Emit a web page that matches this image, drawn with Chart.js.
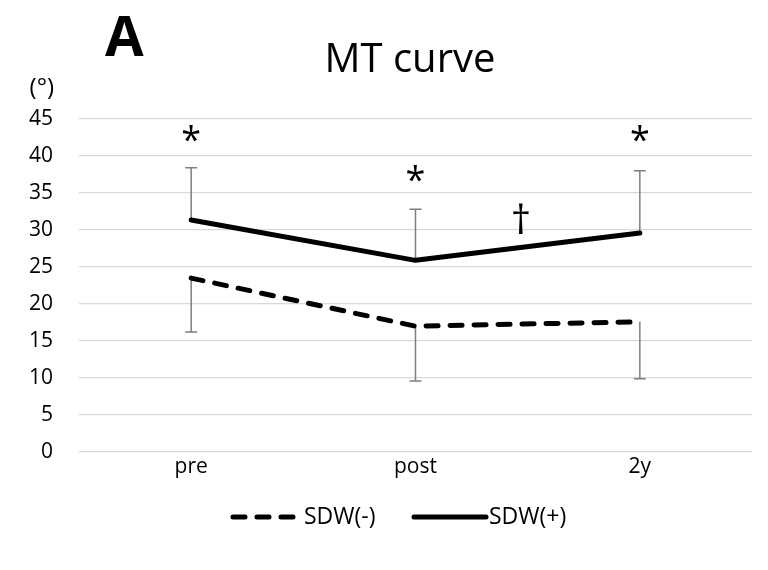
<!DOCTYPE html>
<html><head><meta charset="utf-8">
<script src="https://cdn.jsdelivr.net/npm/chart.js@4/dist/chart.umd.min.js"></script>
<style>html,body{margin:0;padding:0;background:#fff}#wrap{width:768px;height:570px}</style>
</head><body><div id="wrap"><canvas id="c" width="768" height="570"></canvas></div>
<script>
// ---- data ----
const categories = ['pre', 'post', '2y'];
const seriesNames = ['SDW(-)', 'SDW(+)'];
const sdwMinus = [23.5, 17.0, 17.6];
const sdwPlus = [31.35, 25.9, 29.6];
const sdwMinusLower = [16.2, 9.6, 9.9];   // lower end of SD bar for SDW(-)
const sdwPlusUpper = [38.4, 32.8, 38.0];  // upper end of SD bar for SDW(+)
const yMin = 0, yMax = 45, yStep = 5;
const markTexts = ['*', '*', '*', '†'];
const markX = [0, 1, 2, 1.47];
const markY = [43.1, 37.7, 43.1, 31.6];

const FONT = '"Open Sans", Lato, sans-serif';

const decor = {
  id: 'decor',
  beforeDatasetsDraw(chart) {
    const ctx = chart.ctx, xs = chart.scales.x, ys = chart.scales.y;
    ctx.save();
    ctx.strokeStyle = '#7f7f7f';
    ctx.lineWidth = 1.5;
    const cap = 6;
    const bars = [[sdwPlus, sdwPlusUpper], [sdwMinus, sdwMinusLower]];
    bars.forEach(([vals, ends]) => {
      vals.forEach((v, i) => {
        const x = xs.getPixelForValue(i);
        const y0 = ys.getPixelForValue(v), y1 = ys.getPixelForValue(ends[i]);
        ctx.beginPath();
        ctx.moveTo(x, y0); ctx.lineTo(x, y1);
        ctx.moveTo(x - cap, y1); ctx.lineTo(x + cap, y1);
        ctx.stroke();
      });
    });
    ctx.restore();
  },
  afterDraw(chart) {
    const ctx = chart.ctx, xs = chart.scales.x, ys = chart.scales.y;
    ctx.save();
    ctx.fillStyle = '#000';
    // significance marks, ink centered on value position
    markTexts.forEach((t, i) => {
      ctx.font = (t === '*' ? '36px ' : '40px ') + FONT;
      const m = ctx.measureText(t);
      const x = xs.getPixelForValue(markX[i]);
      const y = ys.getPixelForValue(markY[i]);
      ctx.textAlign = 'center';
      ctx.textBaseline = 'alphabetic';
      ctx.fillText(t, x, y + (m.actualBoundingBoxAscent - m.actualBoundingBoxDescent) / 2);
    });
    // title
    ctx.textAlign = 'center';
    ctx.textBaseline = 'alphabetic';
    ctx.font = '40px ' + FONT;
    ctx.fillText('MT curve', 410, 72);
    // panel letter
    ctx.textAlign = 'left';
    ctx.font = 'bold 56px ' + FONT;
    ctx.fillText('A', 105, 56);
    // unit
    ctx.textBaseline = 'middle';
    ctx.font = '24px ' + FONT;
    ctx.textAlign = 'right';
    ctx.fillText('(°)', 54, 88);
    // legend
    const ly = 517;
    ctx.font = '23px ' + FONT;
    ctx.textAlign = 'left';
    ctx.lineWidth = 5;
    ctx.strokeStyle = '#000';
    ctx.lineCap = 'round';
    ctx.setLineDash([12, 12]);
    ctx.beginPath(); ctx.moveTo(233, ly); ctx.lineTo(293, ly); ctx.stroke();
    ctx.fillText(seriesNames[0], 304, ly);
    ctx.setLineDash([]);
    ctx.beginPath(); ctx.moveTo(414, ly); ctx.lineTo(486, ly); ctx.stroke();
    ctx.fillText(seriesNames[1], 489, ly);
    ctx.restore();
  }
};

new Chart(document.getElementById('c'), {
  type: 'line',
  data: {
    labels: categories,
    datasets: [
      { label: seriesNames[0], data: sdwMinus, borderColor: '#000', borderWidth: 5,
        borderDash: [12, 12], borderCapStyle: 'round', borderJoinStyle: 'round',
        pointRadius: 0, tension: 0, fill: false },
      { label: seriesNames[1], data: sdwPlus, borderColor: '#000', borderWidth: 5,
        borderCapStyle: 'round', borderJoinStyle: 'round',
        pointRadius: 0, tension: 0, fill: false }
    ]
  },
  options: {
    responsive: false,
    animation: false,
    devicePixelRatio: 1,
    layout: { padding: { top: 119, right: 16, bottom: 88, left: 0 } },
    plugins: { legend: { display: false }, title: { display: false }, tooltip: { enabled: false } },
    scales: {
      x: {
        offset: true,
        grid: { display: false, drawTicks: false },
        border: { display: false },
        ticks: { color: '#000', font: { family: FONT, size: 21 }, padding: 2 },
        afterFit(s) { s.height = 30; }
      },
      y: {
        min: yMin, max: yMax,
        grid: { color: '#d9d9d9', lineWidth: 1.3, drawTicks: false },
        border: { display: false },
        ticks: { stepSize: yStep, color: '#000', font: { family: FONT, size: 21 }, padding: 26 },
        afterFit(s) { s.width = 79; }
      }
    }
  },
  plugins: [decor]
});
</script>
</body></html>
